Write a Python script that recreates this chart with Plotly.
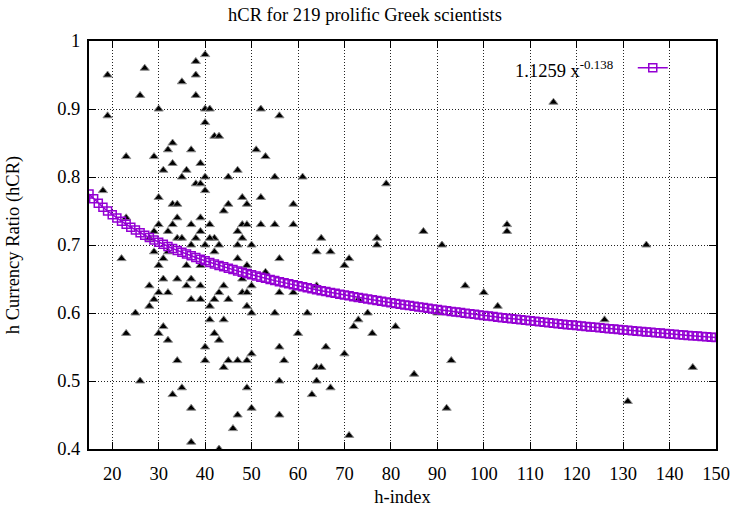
import plotly.graph_objects as go

# ---- data ----
h_index = [40, 38, 27, 19, 38, 35, 26, 38, 30, 40, 41, 19, 40, 42, 43, 52, 56, 51, 53, 47,
           45, 55, 61, 48, 52, 45, 49, 59, 44, 41, 48, 49, 52, 55, 59, 47, 42, 65, 48, 43,
           47, 50, 33, 32, 37, 23, 29, 33, 39, 31, 36, 35, 40, 38, 39, 40, 18, 30, 33, 34,
           34, 39, 23, 30, 33, 37, 32, 39, 29, 34, 35, 38, 41, 28, 37, 40, 22, 29, 31, 32,
           42, 30, 36, 39, 31, 34, 37, 28, 36, 39, 30, 32, 29, 37, 39, 42, 28, 41, 25, 41,
           31, 23, 30, 42, 32, 43, 40, 34, 40, 26, 35, 33, 37, 37, 47, 56, 64, 67, 49, 53,
           48, 44, 50, 43, 48, 49, 56, 59, 64, 45, 49, 50, 55, 62, 44, 60, 56, 66, 50, 45,
           47, 49, 57, 44, 64, 65, 49, 56, 64, 67, 63, 50, 47, 56, 46, 43, 79, 77, 77, 71,
           70, 73, 75, 73, 72, 76, 70, 71, 115, 87, 105, 105, 91, 135, 96, 100, 103, 90, 126, 81,
           93, 85, 145, 131, 92]
hcr = [0.98, 0.97, 0.96, 0.95, 0.95, 0.94, 0.92, 0.92, 0.90, 0.90, 0.90, 0.89, 0.88, 0.86, 0.86, 0.90, 0.89, 0.84, 0.83, 0.81,
       0.80, 0.80, 0.80, 0.77, 0.77, 0.76, 0.76, 0.76, 0.75, 0.73, 0.73, 0.73, 0.73, 0.73, 0.73, 0.72, 0.71, 0.71, 0.71, 0.70,
       0.70, 0.70, 0.85, 0.84, 0.84, 0.83, 0.83, 0.82, 0.82, 0.81, 0.81, 0.80, 0.80, 0.79, 0.79, 0.78, 0.78, 0.77, 0.76, 0.76,
       0.74, 0.74, 0.74, 0.73, 0.73, 0.73, 0.72, 0.72, 0.72, 0.71, 0.71, 0.71, 0.71, 0.71, 0.70, 0.70, 0.68, 0.69, 0.68, 0.69,
       0.69, 0.67, 0.67, 0.67, 0.65, 0.65, 0.65, 0.64, 0.64, 0.64, 0.63, 0.63, 0.62, 0.62, 0.62, 0.62, 0.61, 0.61, 0.60, 0.59,
       0.58, 0.57, 0.57, 0.57, 0.56, 0.56, 0.55, 0.53, 0.53, 0.50, 0.49, 0.48, 0.46, 0.41, 0.68, 0.68, 0.69, 0.69, 0.67, 0.66,
       0.65, 0.64, 0.64, 0.63, 0.63, 0.63, 0.63, 0.63, 0.64, 0.62, 0.61, 0.60, 0.60, 0.60, 0.59, 0.57, 0.55, 0.55, 0.54, 0.53,
       0.53, 0.53, 0.53, 0.52, 0.52, 0.52, 0.49, 0.50, 0.50, 0.49, 0.48, 0.46, 0.45, 0.45, 0.43, 0.40, 0.79, 0.71, 0.70, 0.68,
       0.67, 0.62, 0.60, 0.59, 0.58, 0.57, 0.54, 0.42, 0.91, 0.72, 0.73, 0.72, 0.70, 0.70, 0.64, 0.63, 0.61, 0.60, 0.59, 0.58,
       0.53, 0.51, 0.52, 0.47, 0.46]

# power-law fit stated in the legend: a * x^b
FIT_A = 1.1259
FIT_B = -0.138
fit_x = list(range(15, 151))
fit_y = [FIT_A * x ** FIT_B for x in fit_x]

x_ticks = list(range(20, 151, 10))
y_ticks = [0.4, 0.5, 0.6, 0.7, 0.8, 0.9, 1.0]
y_tick_text = ["0.4", "0.5", "0.6", "0.7", "0.8", "0.9", "1"]

PURPLE = "#9400D3"
FONT = "Liberation Serif"
FS = 18.5

fig = go.Figure()
fig.add_trace(go.Scatter(
    x=h_index, y=hcr, mode="markers", showlegend=False,
    marker=dict(symbol="triangle-up", size=8, color="black",
                line=dict(color="#8a8a8a", width=1)),
))
fig.add_trace(go.Scatter(
    x=fit_x, y=fit_y, mode="lines+markers", name=" ",
    line=dict(color=PURPLE, width=1.5),
    marker=dict(symbol="square-open", size=8, color=PURPLE, line=dict(width=1.5)),
))

axis_common = dict(
    automargin=False,
    showline=True, linecolor="black", linewidth=2, mirror="ticks",
    ticks="inside", ticklen=7, tickcolor="black", tickwidth=1,
    showgrid=True, gridcolor="#222222", gridwidth=1, griddash="1px,2px",
    zeroline=False, tickfont=dict(family=FONT, size=FS, color="black"),
)

fig.update_layout(
    width=730, height=507,
    margin=dict(l=89, r=14, t=41, b=58),
    paper_bgcolor="white", plot_bgcolor="white",
    font=dict(family=FONT, size=FS, color="black"),
    title=dict(text="hCR for 219 prolific Greek scientists", x=0.5, xanchor="center",
               y=1 - 15 / 507, yanchor="middle", font=dict(family=FONT, size=FS)),
    xaxis=dict(range=[15, 150], tickvals=x_ticks, ticklabelstandoff=7,
               title=dict(text="h-index", font=dict(family=FONT, size=FS), standoff=7),
               **axis_common),
    yaxis=dict(range=[0.4, 1.0], tickvals=y_ticks, ticktext=y_tick_text, ticklabelstandoff=3,
               title=dict(text="h Currency Ratio (hCR)", font=dict(family=FONT, size=FS), standoff=33),
               **axis_common),
    legend=dict(x=0.947, y=0.980, xanchor="right", yanchor="top",
                bgcolor="rgba(0,0,0,0)", font=dict(family=FONT, size=FS),
                itemwidth=30),
    annotations=[dict(text="1.1259 x<sup>-0.138</sup>", xref="paper", yref="paper",
                      x=0.839, y=0.932, xanchor="right", yanchor="middle", showarrow=False,
                      font=dict(family=FONT, size=FS, color="black"))],
)

# drop the default page margin and scrollbars so the 730x507 chart fills the window
fig.write_html("out.html",
               config={"displayModeBar": False},
               post_script="document.body.style.margin='0';"
                           "document.documentElement.style.overflow='hidden';")
